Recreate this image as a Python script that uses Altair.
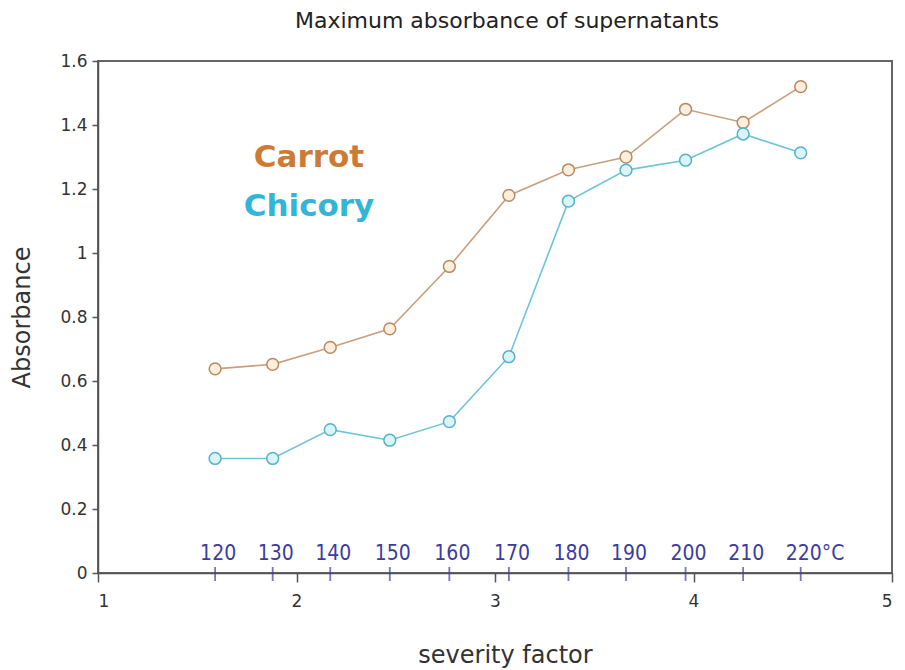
import altair as alt
import pandas as pd

# ---- data ----
severity = [1.59, 1.88, 2.17, 2.47, 2.77, 3.07, 3.37, 3.66, 3.96, 4.25, 4.54]
temperature_labels = ["120", "130", "140", "150", "160", "170", "180", "190", "200", "210", "220°C"]
carrot = [0.638, 0.652, 0.705, 0.763, 0.958, 1.180, 1.260, 1.300, 1.449, 1.408, 1.520]
chicory = [0.358, 0.358, 0.448, 0.415, 0.473, 0.676, 1.162, 1.259, 1.290, 1.372, 1.313]

series_names = ["Carrot", "Chicory"]
line_colors = ["#c9a07e", "#6cc6d6"]
marker_strokes = ["#b98a62", "#56b2c8"]
marker_fills = ["#fdeedd", "#daf5fa"]
legend_colors = ["#cc7a34", "#33b5d8"]
legend_x = [2.063, 2.063]
legend_y = [1.297, 1.144]

x_ticks = [1, 2, 3, 4, 5]
y_ticks = [0, 0.2, 0.4, 0.6, 0.8, 1.0, 1.2, 1.4, 1.6]

df = pd.DataFrame({
    "severity": severity * 2,
    "absorbance": carrot + chicory,
    "series": ["Carrot"] * len(carrot) + ["Chicory"] * len(chicory),
})
temp_df = pd.DataFrame({"severity": severity, "label": temperature_labels})

W, H = 794, 512
FONT = "DejaVu Sans"

xs = alt.Scale(domain=[1, 5], nice=False, zero=False)
ys = alt.Scale(domain=[0, 1.6], nice=False, zero=False)

x_axis = alt.Axis(
    values=x_ticks, format="d", title="severity factor", grid=False,
    domainColor="#555555", domainWidth=1.5, tickColor="#555555", tickSize=9, tickWidth=1.5,
    labelFont=FONT, labelFontSize=17, labelColor="#333333", labelPadding=11,
    titleFont=FONT, titleFontSize=24, titleFontWeight="normal", titleColor="#333333",
    titleX=407, titleY=82, titleBaseline="middle",
)
y_axis = alt.Axis(
    values=y_ticks, format="~g", title="Absorbance", grid=False,
    domainColor="#555555", domainWidth=1.5, tickColor="#555555", tickSize=6, tickWidth=1.5,
    labelFont=FONT, labelFontSize=17, labelColor="#333333", labelPadding=5,
    titleFont=FONT, titleFontSize=24, titleFontWeight="normal", titleColor="#333333",
    titleX=-76, titleBaseline="middle", titleAngle=270,
)

color_scale = alt.Scale(domain=series_names, range=line_colors)
stroke_scale = alt.Scale(domain=series_names, range=marker_strokes)
fill_scale = alt.Scale(domain=series_names, range=marker_fills)

lines = alt.Chart(df).mark_line(strokeWidth=1.6).encode(
    x=alt.X("severity:Q", scale=xs, axis=x_axis),
    y=alt.Y("absorbance:Q", scale=ys, axis=y_axis),
    color=alt.Color("series:N", scale=color_scale, legend=None),
)

points = alt.Chart(df).mark_point(shape="circle", size=140, strokeWidth=1.5, opacity=1, fillOpacity=1).encode(
    x=alt.X("severity:Q", scale=xs),
    y=alt.Y("absorbance:Q", scale=ys),
    stroke=alt.Stroke("series:N", scale=stroke_scale, legend=None),
    fill=alt.Fill("series:N", scale=fill_scale, legend=None),
)

temp_ticks = alt.Chart(temp_df).mark_tick(orient="vertical", size=14, thickness=1.8, color="#3c3c9c", yOffset=1).encode(
    x=alt.X("severity:Q", scale=xs),
    y=alt.datum(0, scale=ys),
)

temp_text = alt.Chart(temp_df).mark_text(
    font="Liberation Sans Narrow, DejaVu Sans Condensed, sans-serif", fontSize=21, color="#3c3c9c",
    align="left", baseline="middle", dx=-15, dy=-19,
).encode(
    x=alt.X("severity:Q", scale=xs),
    y=alt.datum(0, scale=ys),
    text="label:N",
)

legend_layers = []
for name, col, lx, ly in zip(series_names, legend_colors, legend_x, legend_y):
    legend_layers.append(
        alt.Chart(pd.DataFrame({"x": [lx], "y": [ly], "t": [name]})).mark_text(
            font=FONT, fontSize=31, fontWeight="bold", color=col, align="center", baseline="middle",
        ).encode(
            x=alt.X("x:Q", scale=xs),
            y=alt.Y("y:Q", scale=ys),
            text="t:N",
        )
    )

chart = alt.layer(lines, points, temp_ticks, temp_text, *legend_layers).properties(
    width=W, height=H,
    title=alt.TitleParams(
        "Maximum absorbance of supernatants", font=FONT, fontSize=22, fontWeight="normal",
        color="#222222", anchor="middle", dx=12, offset=19,
    ),
    autosize=alt.AutoSizeParams(type="none"),
    padding={"left": 90, "top": 53, "right": 5, "bottom": 96},
).configure_view(
    stroke="#666666", strokeWidth=2,
)

chart.save("out.html", embed_options={"renderer": "svg", "actions": False})
